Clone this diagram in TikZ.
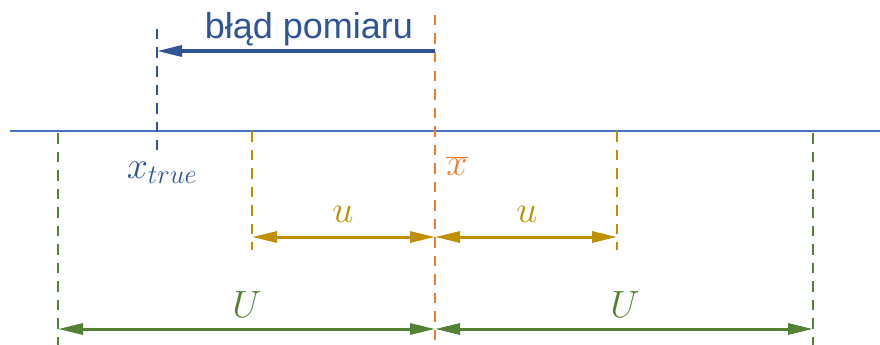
\RequirePackage{fix-cm}
\documentclass[tikz,border=0pt]{standalone}
\usepackage{fontspec}
\setmainfont{Liberation Sans}
\usetikzlibrary{arrows.meta}
\definecolor{cblue}{HTML}{2F5597}
\definecolor{caxis}{HTML}{4472C4}
\definecolor{corange}{HTML}{ED7D31}
\definecolor{cgold}{HTML}{BF9000}
\definecolor{cgreen}{HTML}{548235}
\tikzset{
  dline/.style={line width=2.8pt, dash pattern=on 10.5pt off 8pt},
  dimarrow/.style={line width=3pt, {Triangle[length=25pt,width=11pt]}-{Triangle[length=25pt,width=11pt]}},
  errarrow/.style={line width=3.2pt, -{Triangle[length=25pt,width=11pt]}},
  mathlbl/.style={inner sep=0pt, anchor=base, font=\fontsize{38}{42}\selectfont},
}
\begin{document}
\begin{tikzpicture}[x=1pt,y=-1pt]
\useasboundingbox (0,0) rectangle (880,345);
% coordinates
\coordinate (aL) at (10,131);
\coordinate (aR) at (880,131);
\coordinate (tT) at (157,29);
\coordinate (tB) at (157,150);
\coordinate (mT) at (435,15);
\coordinate (mB) at (435,345);
\coordinate (uLT) at (252,131);
\coordinate (uLB) at (252,250);
\coordinate (uRT) at (617,131);
\coordinate (uRB) at (617,250);
\coordinate (ULT) at (58,133);
\coordinate (ULB) at (58,345);
\coordinate (URT) at (813,133);
\coordinate (URB) at (813,345);
\coordinate (eA) at (435,51);
\coordinate (eB) at (157,51);
\coordinate (u1) at (252,237);
\coordinate (u0) at (435,237);
\coordinate (u2) at (617,237);
\coordinate (U1) at (58,329);
\coordinate (U0) at (435,329);
\coordinate (U2) at (813,329);
% axis
\draw[caxis, line width=1.3pt] (aL) -- (aR);
% dashed lines
\draw[dline, cblue] (tT) -- (tB);
\draw[dline, cgold] (uLT) -- (uLB);
\draw[dline, cgold] (uRT) -- (uRB);
\draw[dline, cgreen] (ULT) -- (ULB);
\draw[dline, cgreen] (URT) -- (URB);
\draw[dline, corange] (mT) -- (mB);
% arrows
\draw[errarrow, cblue] (eA) -- (eB);
\draw[dimarrow, cgold] (u1) -- (u0);
\draw[dimarrow, cgold] (u0) -- (u2);
\draw[dimarrow, cgreen] (U1) -- (U0);
\draw[dimarrow, cgreen] (U0) -- (U2);
% labels
\node[inner sep=0pt, anchor=base, text=cblue, font=\fontsize{36}{40}\selectfont] (err) at (309,38) {błąd pomiaru};
\node[mathlbl, text=cblue] (xt) at (162,178) {$x_{true}$};
\node[mathlbl, text=corange] (xm) at (457,175) {$\overline{x}$};
\node[mathlbl, text=cgold] (ul) at (343,222) {$u$};
\node[mathlbl, text=cgold] (ur) at (527,222) {$u$};
\node[mathlbl, text=cgreen] (Ul) at (247,317) {$U$};
\node[mathlbl, text=cgreen] (Ur) at (625,317) {$U$};
\end{tikzpicture}
\end{document}
